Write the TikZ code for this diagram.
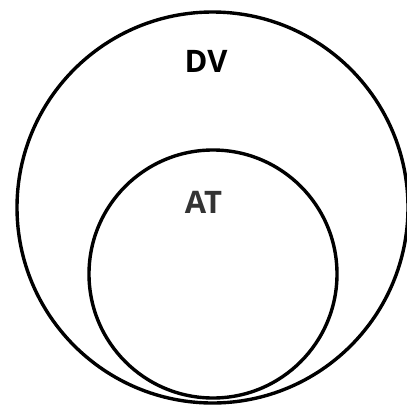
\documentclass[tikz,border=0pt]{standalone}
\usepackage{fontspec}
\setmainfont{Open Sans}
\begin{document}
\begin{tikzpicture}[x=1pt,y=-1pt,
  ring/.style={draw=black,line width=3.4pt,circle,inner sep=0pt},
  lbl/.style={font=\fontsize{31}{31}\selectfont\bfseries,inner sep=0pt}]
\useasboundingbox[fill=white] (0,0) rectangle (407,405);
\node[ring,minimum size=391pt] (dv) at (212.5,207.5) {};
\node[ring,minimum size=248pt] (at) at (213,274) {};
\node[lbl,text=black] (dvl) at (206,61) {DV};
\node[lbl,text=black!80] (atl) at (203.5,202.5) {AT};
\end{tikzpicture}
\end{document}
